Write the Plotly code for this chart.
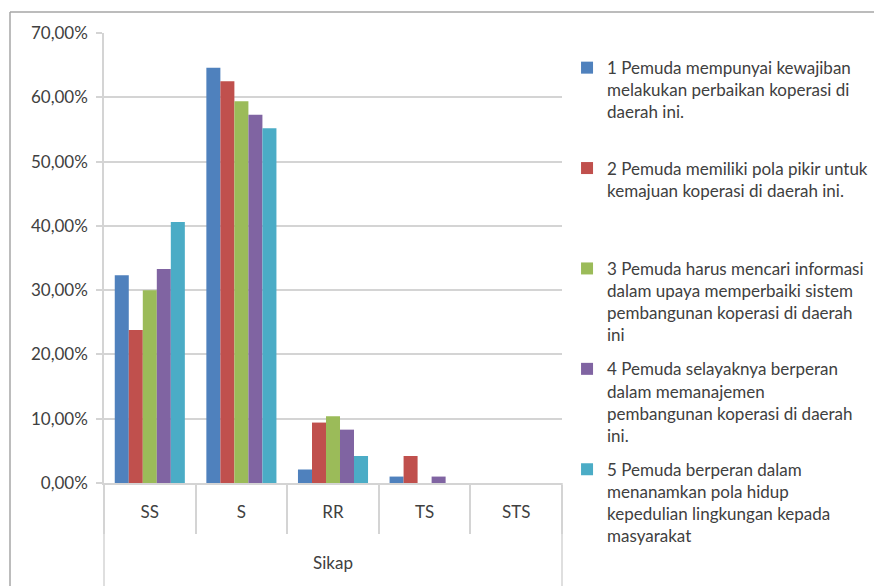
import plotly.graph_objects as go

categories = ["SS", "S", "RR", "TS", "STS"]
series_names = [
    "1 Pemuda mempunyai kewajiban<br>melakukan perbaikan koperasi di<br>daerah ini.<br> ",
    "2 Pemuda memiliki pola pikir untuk<br>kemajuan koperasi di daerah ini.<br> <br> ",
    "3 Pemuda harus mencari informasi<br>dalam upaya memperbaiki sistem<br>pembangunan koperasi di daerah<br>ini",
    "4 Pemuda selayaknya berperan<br>dalam memanajemen<br>pembangunan koperasi di daerah<br>ini.",
    "5 Pemuda berperan dalam<br>menanamkan pola hidup<br>kepedulian lingkungan kepada<br>masyarakat",
]
s1 = [0.323, 0.646, 0.021, 0.010, 0.0]
s2 = [0.238, 0.625, 0.094, 0.042, 0.0]
s3 = [0.300, 0.594, 0.104, 0.0, 0.0]
s4 = [0.333, 0.573, 0.083, 0.010, 0.0]
s5 = [0.406, 0.552, 0.042, 0.0, 0.0]
series_values = [s1, s2, s3, s4, s5]
colors = ["#4F81BD", "#C0504D", "#9BBB59", "#8064A2", "#4BACC6"]
y_ticks = [0, 0.1, 0.2, 0.3, 0.4, 0.5, 0.6, 0.7]
x_title = "Sikap"

FONT = "Lato"
TXT = "#404040"
GRID = "#d4d4d4"
FS = 17

fig = go.Figure()
for i, (name, vals, col) in enumerate(zip(series_names, series_values, colors)):
    fig.add_trace(go.Bar(
        x=categories, y=vals, name=name, marker_color=col,
        marker_line_width=0, legendgroup=f"g{i}",
    ))

PW, PH = 458, 450
fig.update_layout(
    width=882, height=586,
    margin=dict(l=96, r=328, t=25, b=111, autoexpand=False),
    paper_bgcolor="white", plot_bgcolor="white",
    barmode="group", bargap=0.235, bargroupgap=0,
    separators=",.",
    font=dict(family=FONT, color=TXT, size=FS),
    legend=dict(
        x=1.011, y=0.962, xanchor="left", yanchor="top",
        valign="top", tracegroupgap=9, itemwidth=30,
        font=dict(family=FONT, size=FS, color=TXT),
        bgcolor="rgba(0,0,0,0)", maxheight=900,
    ),
    showlegend=True,
)
fig.update_yaxes(
    range=[0, 0.7], tickvals=y_ticks, tickformat=".2%",
    showgrid=True, gridcolor=GRID, gridwidth=1.5,
    showline=True, linecolor=GRID, linewidth=1.5,
    ticks="outside", ticklen=6, tickcolor=GRID, tickwidth=1.5,
    ticklabelstandoff=5,
    tickfont=dict(family=FONT, size=FS, color=TXT),
    zeroline=False,
)
fig.update_xaxes(
    type="category", showline=True, linecolor=GRID, linewidth=1.5,
    ticks="outside", tickson="boundaries", ticklen=49, tickcolor=GRID, tickwidth=1.5,
    ticklabelstandoff=13,
    tickfont=dict(family=FONT, size=FS, color=TXT),
    title=dict(text=x_title, standoff=36, font=dict(family=FONT, size=FS, color=TXT)),
)
# outer frame and outer-level category lines
fig.add_shape(type="line", xref="paper", yref="paper", x0=0, x1=0, y0=0, y1=-0.3,
              line=dict(color=GRID, width=1.5))
fig.add_shape(type="line", xref="paper", yref="paper", x0=1, x1=1, y0=0, y1=-0.3,
              line=dict(color=GRID, width=1.5))
fig.add_shape(type="line", xref="paper", yref="paper", x0=-94 / PW, x1=800 / PW,
              y0=471 / PH, y1=471 / PH, line=dict(color="#a6a6a6", width=1.5))
fig.add_shape(type="line", xref="paper", yref="paper", x0=-94 / PW, x1=-94 / PW,
              y0=471 / PH, y1=-0.3, line=dict(color="#a6a6a6", width=1.5))

fig.write_html("out.html")
